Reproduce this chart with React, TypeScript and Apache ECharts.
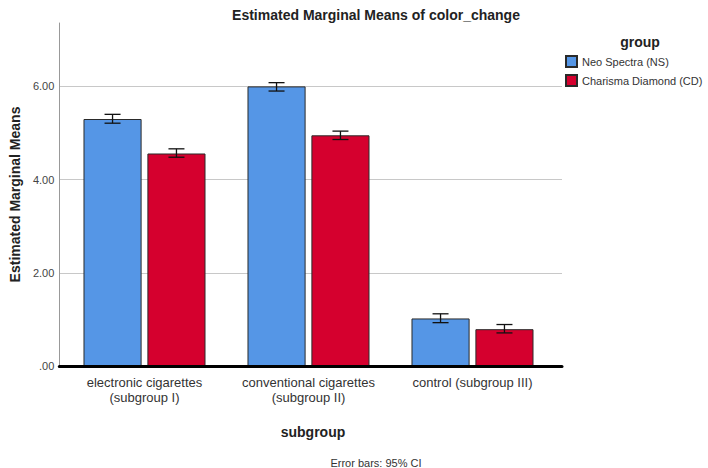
import React, { useEffect, useRef } from "react";
import * as echarts from "echarts";

const categories = ["electronic cigarettes\n(subgroup I)", "conventional cigarettes\n(subgroup II)", "control (subgroup III)"];
const seriesNames = ["Neo Spectra (NS)", "Charisma Diamond (CD)"];
const nsMeans = [5.3, 6.0, 1.02];
const cdMeans = [4.56, 4.95, 0.79];
const nsLower = [5.21, 5.9, 0.93];
const nsUpper = [5.4, 6.08, 1.12];
const cdLower = [4.48, 4.86, 0.71];
const cdUpper = [4.66, 5.04, 0.89];
const yTicks = [0, 2, 4, 6];

const BLUE = "#5596E6";
const RED = "#D5002E";
const FONT = "'Liberation Sans', Arial, sans-serif";

const BAR_CAT_GAP = 0.256;
const BAR_GAP = 0.1;

export default function App() {
  const ref = useRef<HTMLDivElement>(null);
  useEffect(() => {
    if (!ref.current) return;
    const chart = echarts.init(ref.current, null, { renderer: "svg" });
    const errData: number[][] = [];
    for (let i = 0; i < categories.length; i++) {
      errData.push([i, nsLower[i], nsUpper[i], 0]);
      errData.push([i, cdLower[i], cdUpper[i], 1]);
    }
    const yMax = 7.36;
    const option: any = {
      animation: false,
      backgroundColor: "#ffffff",
      textStyle: { fontFamily: FONT },
      title: [
        {
          text: "Estimated Marginal Means of color_change",
          left: 371,
          top: 3,
          textAlign: "center",
          textStyle: { fontFamily: FONT, fontSize: 14, fontWeight: "bold", color: "#222" },
        },
        {
          text: "group",
          left: 635,
          top: 30,
          textAlign: "center",
          textStyle: { fontFamily: FONT, fontSize: 14, fontWeight: "bold", color: "#222" },
        },
        {
          text: "subgroup",
          left: 308,
          top: 420,
          textAlign: "center",
          textStyle: { fontFamily: FONT, fontSize: 14, fontWeight: "bold", color: "#222" },
        },
        {
          text: "Error bars: 95% CI",
          left: 371,
          top: 452,
          textAlign: "center",
          textStyle: { fontFamily: FONT, fontSize: 11, fontWeight: "normal", color: "#333" },
        },
      ],
      legend: {
        orient: "vertical",
        left: 565,
        top: 55,
        padding: 0,
        itemWidth: 11,
        itemHeight: 11,
        itemGap: 6,
        icon: "rect",
        data: seriesNames,
        textStyle: { fontFamily: FONT, fontSize: 11, color: "#333" },
      },
      grid: [
        { left: 54, right: 146, top: 23, bottom: 102 },
        { left: 62.5, right: 153.5, top: 23, bottom: 102 },
      ],
      xAxis: [
        {
          type: "category",
          gridIndex: 0,
          data: categories,
          axisLine: { show: true, lineStyle: { color: "#000", width: 3 } },
          axisTick: { show: false },
          axisLabel: { show: false },
          splitLine: { show: false },
          z: 5,
        },
        {
          type: "category",
          gridIndex: 1,
          data: categories,
          axisLine: { show: false },
          axisTick: { show: false },
          axisLabel: {
            margin: 9,
            fontFamily: FONT,
            fontSize: 13,
            lineHeight: 15,
            color: "#333",
            interval: 0,
          },
        },
      ],
      yAxis: [
        {
          type: "value",
          gridIndex: 0,
          min: 0,
          max: yMax,
          interval: 2,
          name: "Estimated Marginal Means",
          nameLocation: "middle",
          nameRotate: 90,
          nameGap: 36,
          nameTextStyle: { fontFamily: FONT, fontSize: 14, fontWeight: "bold", color: "#222" },
          axisLine: { show: true, lineStyle: { color: "#999", width: 1 } },
          axisTick: { show: false },
          axisLabel: {
            margin: 5,
            fontFamily: FONT,
            fontSize: 11,
            color: "#444",
            showMaxLabel: false,
            formatter: (v: number) => (yTicks.indexOf(v) < 0 ? "" : v === 0 ? ".00" : v.toFixed(2)),
          },
          splitLine: {
            show: true,
            showMinLine: false,
            showMaxLine: false,
            lineStyle: { color: "#c8c8c8", width: 1 },
          },
        },
        {
          type: "value",
          gridIndex: 1,
          min: 0,
          max: yMax,
          interval: 2,
          show: false,
          splitLine: { show: false },
        },
      ],
      series: [
        {
          name: seriesNames[0],
          type: "bar",
          xAxisIndex: 1,
          yAxisIndex: 1,
          data: nsMeans,
          barCategoryGap: (BAR_CAT_GAP * 100) + "%",
          barGap: (BAR_GAP * 100) + "%",
          itemStyle: { color: BLUE, borderColor: "#2a2a2a", borderWidth: 1 },
          z: 2,
        },
        {
          name: seriesNames[1],
          type: "bar",
          xAxisIndex: 1,
          yAxisIndex: 1,
          data: cdMeans,
          barCategoryGap: (BAR_CAT_GAP * 100) + "%",
          barGap: (BAR_GAP * 100) + "%",
          itemStyle: { color: RED, borderColor: "#2a2a2a", borderWidth: 1 },
          z: 2,
        },
        {
          type: "custom",
          xAxisIndex: 1,
          yAxisIndex: 1,
          data: errData,
          z: 10,
          silent: true,
          renderItem: (params: any, api: any) => {
            const cat = api.value(0);
            const lo = api.value(1);
            const hi = api.value(2);
            const s = api.value(3);
            const catW = api.size([1, 0])[0];
            const barW = (catW * (1 - BAR_CAT_GAP)) / (2 + BAR_GAP);
            const off = ((barW + barW * BAR_GAP) / 2) * (s === 0 ? -1 : 1);
            const pLo = api.coord([cat, lo]);
            const pHi = api.coord([cat, hi]);
            const x = pLo[0] + off;
            const hw = 8;
            const style = { stroke: "#111", lineWidth: 1.3, fill: "none" };
            return {
              type: "group",
              children: [
                { type: "line", shape: { x1: x, y1: pLo[1], x2: x, y2: pHi[1] }, style },
                { type: "line", shape: { x1: x - hw, y1: pLo[1], x2: x + hw, y2: pLo[1] }, style },
                { type: "line", shape: { x1: x - hw, y1: pHi[1], x2: x + hw, y2: pHi[1] }, style },
              ],
            };
          },
        },
      ],
    };
    chart.setOption(option);
    return () => chart.dispose();
  }, []);
  return (
    <div
      ref={ref}
      style={{ position: "absolute", left: 0, top: 0, width: 708, height: 468 }}
    />
  );
}
